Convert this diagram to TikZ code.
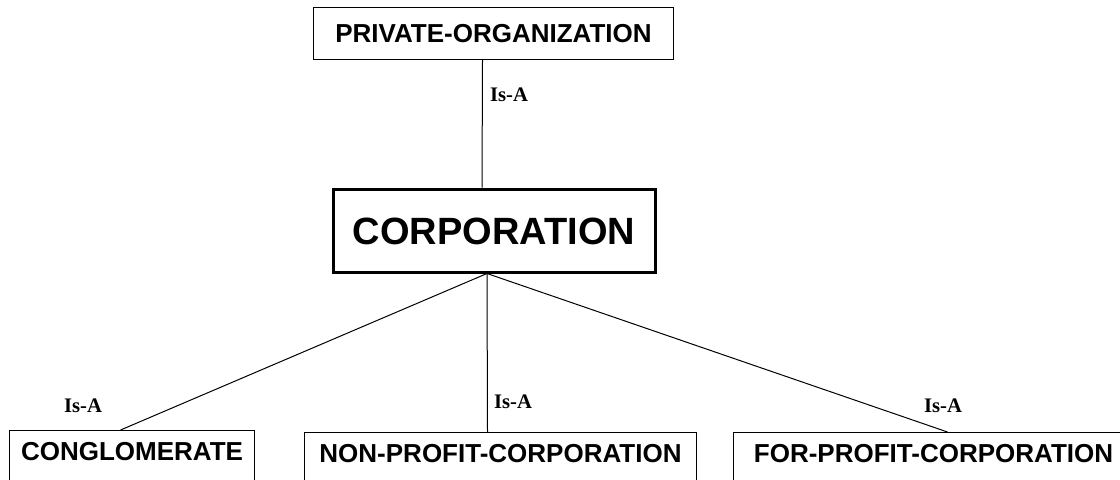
\documentclass[tikz,border=0pt]{standalone}
\usepackage{fontspec}
\usepackage{tikz}
\usetikzlibrary{positioning,calc}
\newfontfamily\classfont{Liberation Sans}
\newfontfamily\isafont{Liberation Serif}

\begin{document}
\begin{tikzpicture}[x=0.75pt, y={(0pt,-0.75pt)},
    classbox/.style={draw, line width=0.75pt, inner sep=0pt, font=\classfont\bfseries\fontsize{19.5}{22}\selectfont},
    isa/.style={font=\isafont\bfseries\fontsize{15.5}{18}\selectfont},
    link/.style={line width=0.75pt}]
    \useasboundingbox (0,0) rectangle (1120,479);
    \clip (0,0) rectangle (1120,479);

    % Parent class
    \node [classbox, anchor=north west, minimum width=270pt, minimum height=39pt,
           text height=14pt, text depth=0pt] (priv) at (313,7) {PRIVATE-ORGANIZATION};

    % Main class
    \node [draw, line width=2.25pt, inner sep=0pt, minimum width=241.5pt, minimum height=62.25pt,
           text height=20.4pt, text depth=0pt,
           font=\classfont\bfseries\fontsize{28.5}{32}\selectfont] (corp) at (494,230.5) {CORPORATION};

    % Subclasses (cut off at the bottom)
    \node [classbox, anchor=north west, minimum width=183.75pt, text height=22.25pt, text depth=30pt]
        (conglo) at (9,430) {CONGLOMERATE};
    \node [classbox, anchor=north west, minimum width=294pt, text height=22.25pt, text depth=30pt]
        (nonprofit) at (304,432) {NON-PROFIT-CORPORATION};
    \node [classbox, anchor=north west, minimum width=300pt, text height=22.25pt, text depth=30pt]
        (forprofit) at (733,432) {FOR-PROFIT-CORPORATION};

    % Is-A links
    \coordinate (fork) at ([xshift=-5.25pt]corp.south);
    \draw [link] ([xshift=-8.25pt]priv.south) -- ([xshift=-9pt]corp.north);
    \draw [link] (fork) -- ([xshift=-8.6pt]conglo.north);
    \draw [link] (fork) -- ([xshift=-9.75pt]nonprofit.north);
    \draw [link] (fork) -- ([xshift=10.5pt]forprofit.north);

    % Labels
    \node [isa] (isatop) at (509,95) {Is-A};
    \node [isa] (isaconglo) at (83,406) {Is-A};
    \node [isa] (isanon) at (513,402) {Is-A};
    \node [isa] (isafor) at (943,406) {Is-A};
\end{tikzpicture}
\end{document}
